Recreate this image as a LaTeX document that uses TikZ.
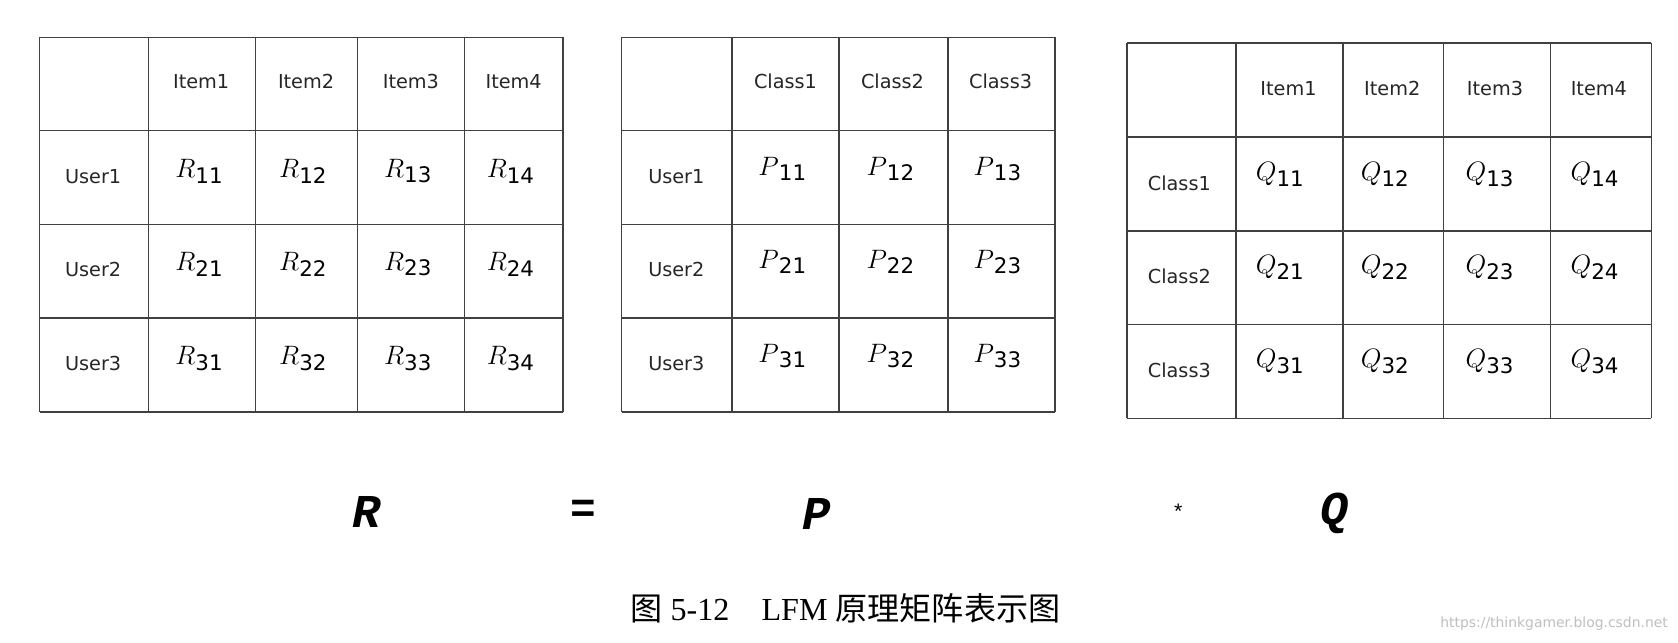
\documentclass[tikz,border=0pt]{standalone}
\usepackage{fontspec}
\setmainfont{Liberation Serif}
\newfontfamily\cellfont{DejaVu Sans}
\newfontfamily\monobf{Liberation Mono}
\newfontfamily\cjk{Noto Sans CJK SC}
\newcommand{\ent}[2]{$#1$\raisebox{-5pt}{\cellfont\fontsize{20}{22}\selectfont #2}}
\begin{document}
\begin{tikzpicture}[x=1pt,y=-1pt,
  grid/.style={draw=black!75,line width=1.3pt},
  lab/.style={font=\cellfont\fontsize{18}{20}\selectfont,text=black!85},
  ent/.style={font=\fontsize{28}{30}\selectfont,inner sep=0pt},
  big/.style={font=\monobf\bfseries\itshape\fontsize{44}{46}\selectfont}]
\useasboundingbox (0,0) rectangle (1568,600);
\fill[white] (0,0) rectangle (1568,600);
% R table
\foreach \x in {37,139,239,334,434,526} {\draw[grid] (\x,35) -- (\x,385);}
\foreach \y in {35,122,210,297,385} {\draw[grid] (37,\y) -- (526,\y);}
\foreach \n/\x in {1/188,2/286,3/384,4/480} {\node[lab] (ri\n) at (\x,76) {Item\n};}
\foreach \n/\y in {1/165,2/252,3/340} {\node[lab] (ru\n) at (87,\y) {User\n};}
\foreach \r/\y in {1/160,2/247,3/335} {
  \foreach \c/\x in {1/186,2/283,3/381,4/477} {\node[ent] (r\r\c) at (\x,\y) {\ent{R}{\r\c}};}}
% P table
\foreach \x in {581,684,784,886,986} {\draw[grid] (\x,35) -- (\x,385);}
\foreach \y in {35,122,210,297,385} {\draw[grid] (581,\y) -- (986,\y);}
\foreach \n/\x in {1/734,2/834,3/935} {\node[lab] (pc\n) at (\x,76) {Class\n};}
\foreach \n/\y in {1/165,2/252,3/340} {\node[lab] (pu\n) at (632,\y) {User\n};}
\foreach \r/\y in {1/158,2/245,3/333} {
  \foreach \c/\x in {1/731,2/832,3/932} {\node[ent] (p\r\c) at (\x,\y) {\ent{P}{\r\c}};}}
% Q table
\foreach \x in {1053,1155,1255,1349,1449,1543} {\draw[grid] (\x,40) -- (\x,391);}
\foreach \y in {40,128,216,303,391} {\draw[grid] (1053,\y) -- (1543,\y);}
\foreach \n/\x in {1/1204,2/1301,3/1397,4/1494} {\node[lab] (qi\n) at (\x,83) {Item\n};}
\foreach \n/\y in {1/171,2/258,3/346} {\node[lab] (qc\n) at (1102,\y) {Class\n};}
\foreach \r/\y in {1/163,2/250,3/338} {
  \foreach \c/\x in {1/1196,2/1294,3/1392,4/1490} {\node[ent] (q\r\c) at (\x,\y) {\ent{Q}{\r\c}};}}
% equation
\node[big] (bR) at (343,478) {R};
\node[font=\monobf\bfseries\fontsize{40}{42}\selectfont] (eq) at (545,478) {=};
\node[big] (bP) at (763,480) {P};
\node[font=\monobf\fontsize{20}{22}\selectfont] (st) at (1101,478) {*};
\node[big] (bQ) at (1247,480) {Q};
% caption
\node[font=\fontsize{30}{32}\selectfont] (cap) at (790,568) {{\cjk 图} 5-12\quad LFM {\cjk 原理矩阵表示图}};
\node[font=\cellfont\fontsize{13}{14}\selectfont,text=black!25,anchor=east] (wm) at (1562,583) {https://thinkgamer.blog.csdn.net};
\end{tikzpicture}
\end{document}
